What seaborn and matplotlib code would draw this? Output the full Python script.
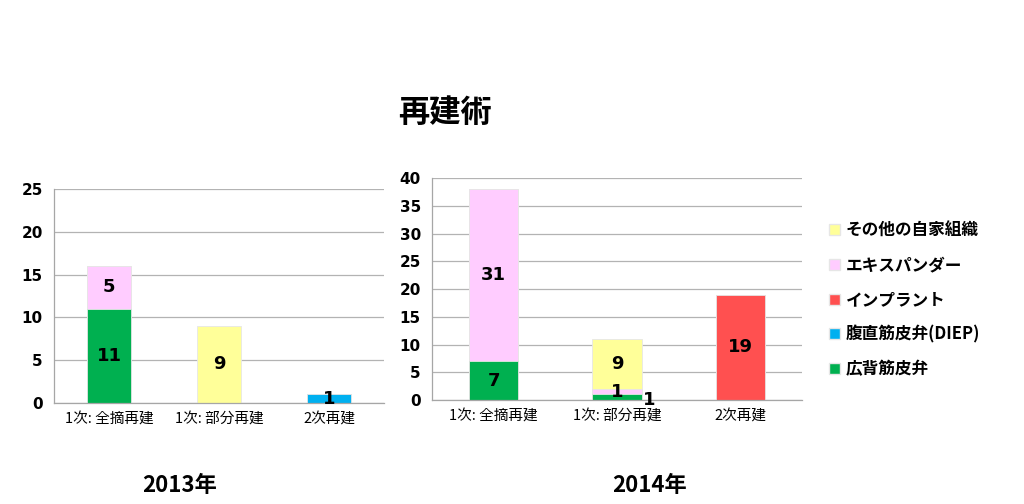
import numpy as np
import pandas as pd
import matplotlib
matplotlib.use("Agg")
import matplotlib.pyplot as plt
from matplotlib.patches import Patch
import seaborn as sns

sns.set_style("white")
plt.rcParams['font.family'] = ['Noto Sans CJK JP', 'DejaVu Sans']
plt.rcParams['text.color'] = 'black'
plt.rcParams['xtick.color'] = 'black'
plt.rcParams['ytick.color'] = 'black'

# ---- data ----
categories = ["1次: 全摘再建", "1次: 部分再建", "2次再建"]
series_names = ["広背筋皮弁", "腹直筋皮弁(DIEP)", "インプラント", "エキスパンダー", "その他の自家組織"]
series_colors = ["#00B050", "#00B0F0", "#FF5050", "#FFCCFF", "#FFFF99"]

vals_2013 = {
    "広背筋皮弁": [11, 0, 0],
    "腹直筋皮弁(DIEP)": [0, 0, 1],
    "インプラント": [0, 0, 0],
    "エキスパンダー": [5, 0, 0],
    "その他の自家組織": [0, 9, 0],
}
vals_2014 = {
    "広背筋皮弁": [7, 1, 0],
    "腹直筋皮弁(DIEP)": [0, 0, 0],
    "インプラント": [0, 0, 19],
    "エキスパンダー": [31, 1, 0],
    "その他の自家組織": [0, 9, 0],
}
yticks_2013 = [0, 5, 10, 15, 20, 25]
yticks_2014 = [0, 5, 10, 15, 20, 25, 30, 35, 40]

title = "再建術"
year_labels = ["2013年", "2014年"]

fig = plt.figure(figsize=(10.24, 5.04), dpi=100)
ax1 = fig.add_axes([0.0527, 0.2004, 0.3223, 0.4246])
ax2 = fig.add_axes([0.4219, 0.2063, 0.3613, 0.4405])


def draw(ax, vals, yticks):
    arr = np.array([vals[n] for n in series_names], dtype=float)
    cum = np.cumsum(arr, axis=0)
    # draw from top layer to bottom so lower layers overlay
    for i in range(len(series_names) - 1, -1, -1):
        if arr[i].sum() == 0:
            continue
        df = pd.DataFrame({"cat": categories, "v": cum[i]})
        sns.barplot(data=df, x="cat", y="v", color=series_colors[i], saturation=1,
                    width=0.4, ax=ax, edgecolor="#e6e6e6", linewidth=0.6, errorbar=None)
    # value labels
    for i, name in enumerate(series_names):
        for j in range(len(categories)):
            v = arr[i, j]
            if v <= 0:
                continue
            bottom = cum[i, j] - v
            if v == 1 and bottom == 0 and cum[-1, j] > 1:
                ax.text(j + 0.21, bottom, f"{int(v)}", ha="left", va="center",
                        fontsize=13, fontweight="bold", family="DejaVu Sans", color="black")
            else:
                ax.text(j, bottom + v / 2, f"{int(v)}", ha="center", va="center",
                        fontsize=13, fontweight="bold", family="DejaVu Sans", color="black")
    ax.set_xlim(-0.5, 2.5)
    ax.set_ylim(yticks[0], yticks[-1])
    ax.set_yticks(yticks)
    ax.set_yticklabels([str(t) for t in yticks], fontsize=11, fontweight="bold",
                       family="DejaVu Sans")
    ax.xaxis.grid(False)
    ax.yaxis.grid(True, color="#b3b3b3", linewidth=0.9)
    ax.set_axisbelow(True)
    ax.set_xlabel("")
    ax.set_ylabel("")
    for s in ["top", "right"]:
        ax.spines[s].set_visible(False)
    for s in ["left", "bottom"]:
        ax.spines[s].set_color("#a6a6a6")
        ax.spines[s].set_linewidth(0.9)
    ax.tick_params(axis="y", length=5, color="#a6a6a6", labelcolor="black", width=0.9, pad=3)
    ax.set_xticks(range(len(categories)))
    ax.set_xticklabels(categories, fontsize=10.5)
    ax.tick_params(axis="x", which="major", length=0, pad=7, labelcolor="black")
    ax.set_xticks([-0.5, 0.5, 1.5, 2.5], minor=True)
    ax.tick_params(axis="x", which="minor", length=5, color="#a6a6a6", width=0.9)


draw(ax1, vals_2013, yticks_2013)
draw(ax2, vals_2014, yticks_2014)

fig.text(0.4346, 0.775, title, ha="center", va="center", fontsize=22.5, fontweight="bold")
fig.text(0.175, 0.037, year_labels[0], ha="center", va="center", fontsize=16, fontweight="bold")
fig.text(0.634, 0.037, year_labels[1], ha="center", va="center", fontsize=16, fontweight="bold")

handles = [Patch(facecolor=series_colors[i], edgecolor="#e6e6e6", label=series_names[i])
           for i in range(len(series_names) - 1, -1, -1)]
leg = fig.legend(handles=handles, loc="upper left", bbox_to_anchor=(0.795, 0.59),
                 frameon=False, prop={"weight": "bold", "size": 12},
                 handlelength=0.65, handleheight=0.65, handletextpad=0.35, labelspacing=1.0)

fig.savefig("out.png", dpi=100)
